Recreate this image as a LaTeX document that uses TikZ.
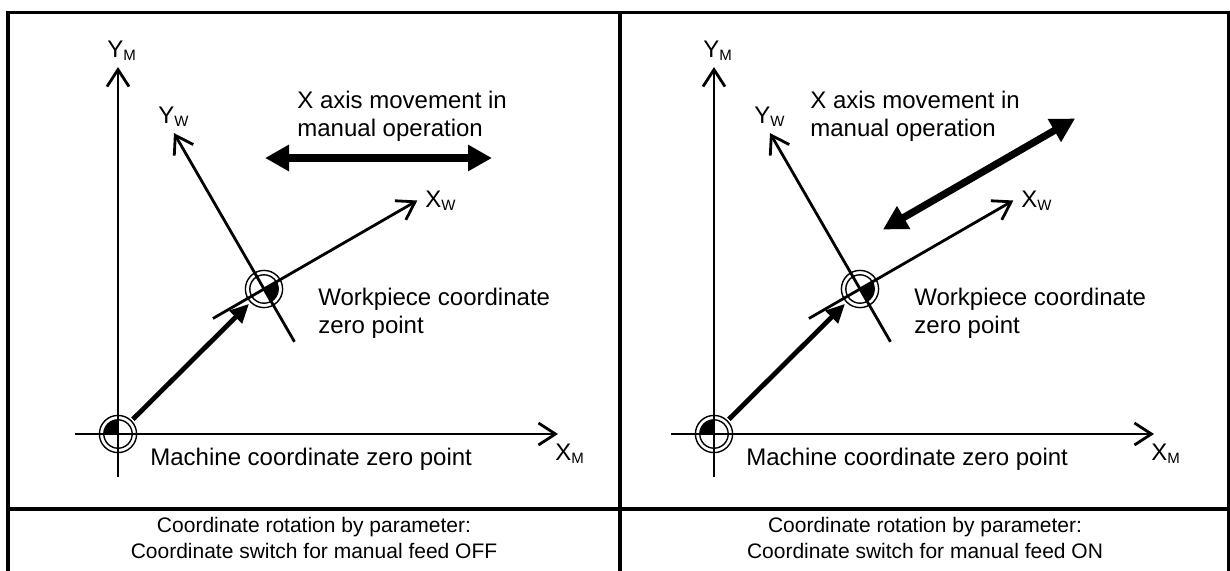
\documentclass[tikz,border=0pt]{standalone}
\usepackage{fontspec}
\setmainfont{Liberation Sans}
\usetikzlibrary{arrows.meta}

\newcommand\sub[1]{\raisebox{-1.5pt}{\fontsize{7.5}{8}\selectfont #1}}
\newcommand\zeromark[2]{%
  \fill (#1) -- ++(#2:7.1pt) arc[start angle=#2, delta angle=90, radius=7.1pt] -- cycle;
  \draw[ring] (#1) circle[radius=7.1pt] (#1) circle[radius=9.3pt];}

\begin{document}
\begin{tikzpicture}[
  x=0.5pt, y=0.5pt,
  font=\fontsize{12}{14}\selectfont,
  frame/.style={line width=1.6pt},
  axis/.style={line width=1.4pt, -{Straight Barb[length=8.5pt, width=11pt]}},
  ring/.style={line width=0.7pt},
  shiftarrow/.style={line width=2.4pt, -{Triangle[length=9.5pt, width=8.5pt]}},
  movearrow/.style={line width=3.6pt, {Triangle[length=12pt, width=12.5pt]}-{Triangle[length=12pt, width=12.5pt]}},
  lbl/.style={inner sep=0pt, align=left},
  caption/.style={inner sep=0pt, align=center, font=\fontsize{10.5}{13}\selectfont}
]
\useasboundingbox (0,0) rectangle (1230,570);
% frame and caption row
\draw[frame] (8,-10) -- (8,557.3) -- (1229,557.3) -- (1229,-10);
\draw[frame] (620,557.3) -- (620,-10);
\draw[frame] (8,61) -- (1229,61);

% the two panels share axes, zero points and labels
\foreach \p/\sx in {L/0, R/596} {
  \begin{scope}[shift={(\sx,0)}]
    \coordinate (mzero\p) at (118,136);
    \coordinate (wzero\p) at (264,281);
    \coordinate (ymfoot\p) at (118,93);
    \coordinate (ymhead\p) at (118,503);
    \coordinate (xmfoot\p) at (75,136);
    \coordinate (xmhead\p) at (558,136);
    \coordinate (xwfoot\p) at (212.9,251.5);
    \coordinate (xwhead\p) at (417.3,369.5);
    \coordinate (ywfoot\p) at (294.5,228.2);
    \coordinate (ywhead\p) at (174,436.9);
    \zeromark{mzero\p}{90}
    \zeromark{wzero\p}{-60}
    \draw[axis] (ymfoot\p) -- (ymhead\p);
    \draw[axis] (xmfoot\p) -- (xmhead\p);
    \draw[axis] (xwfoot\p) -- (xwhead\p);
    \draw[axis] (ywfoot\p) -- (ywhead\p);
    \draw[shiftarrow, shorten <=10.5pt, shorten >=10.5pt] (mzero\p) -- (wzero\p);
    \node[lbl, anchor=base west] (ym\p) at (107,513) {Y\sub{M}};
    \node[lbl, anchor=base west] (yw\p) at (158,447) {Y\sub{W}};
    \node[lbl, anchor=base west] (xw\p) at (425,363) {X\sub{W}};
    \node[lbl, anchor=base west] (xm\p) at (555,110) {X\sub{M}};
    \node[lbl, anchor=base west] (mtext\p) at (150,105) {Machine coordinate zero point};
    \node[lbl, anchor=west] (wtext\p) at (318,257) {Workpiece coordinate\\zero point};
  \end{scope}
}

% manual movement direction
\node[lbl, anchor=west] (movetextL) at (297,454) {X axis movement in\\manual operation};
\node[lbl, anchor=west] (movetextR) at (810,454) {X axis movement in\\manual operation};
\coordinate (moveLa) at (265,412);
\coordinate (moveLb) at (492,412);
\coordinate (moveRa) at (882.9,340.5);
\coordinate (moveRb) at (1075.1,451.5);
\draw[movearrow] (moveLa) -- (moveLb);
\draw[movearrow] (moveRa) -- (moveRb);

% captions
\node[caption] (capL) at (314,32) {Coordinate rotation by parameter:\\Coordinate switch for manual feed OFF};
\node[caption] (capR) at (925,32) {Coordinate rotation by parameter:\\Coordinate switch for manual feed ON};
\end{tikzpicture}
\end{document}
